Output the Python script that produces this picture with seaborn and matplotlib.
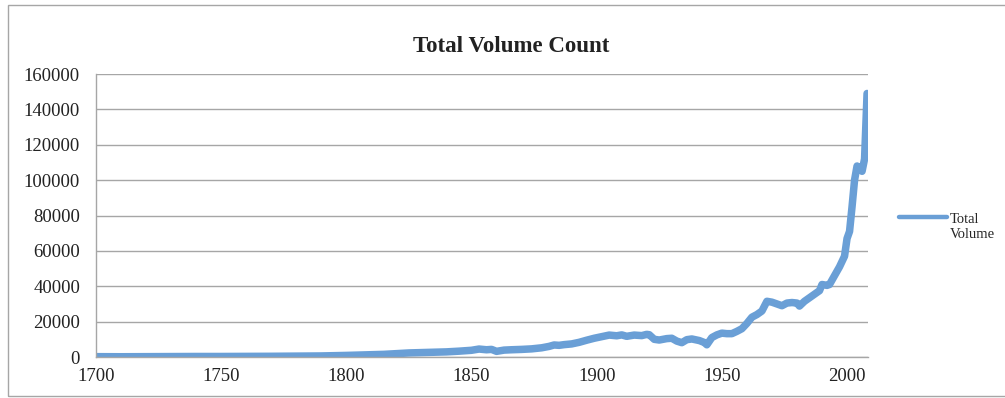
#!/usr/bin/env python3

import matplotlib.pylab as plt
import matplotlib.patches as mpatches
import pandas as pd
import seaborn as sns

# Values
years = [
    1700, 1710, 1720, 1730, 1740, 1750, 1760, 1770, 1780, 1790,
    1800, 1805, 1810, 1815, 1820, 1825, 1830, 1835, 1840, 1845,
    1850, 1853, 1856, 1858, 1860, 1863, 1866, 1870, 1874, 1878,
    1881, 1883, 1885, 1887, 1890, 1893, 1896, 1899, 1902, 1905,
    1908, 1910, 1912, 1915, 1918, 1920, 1921, 1923, 1925, 1928,
    1930, 1932, 1934, 1936, 1938, 1941, 1943, 1944, 1946, 1948,
    1950, 1952, 1954, 1956, 1958, 1960, 1962, 1964, 1966, 1968,
    1970, 1972, 1974, 1976, 1978, 1980, 1981, 1983, 1985, 1987,
    1989, 1990, 1992, 1993, 1995, 1997, 1999, 2000, 2001, 2002,
    2003, 2004, 2005, 2006, 2007, 2008,
]
volumes = [
    200, 150, 200, 250, 300, 300, 350, 400, 500, 600,
    900, 1100, 1300, 1500, 1900, 2300, 2500, 2700, 2900, 3300,
    3800, 4500, 4100, 4300, 3200, 3900, 4100, 4300, 4600, 5200,
    6000, 6800, 6600, 7000, 7400, 8300, 9500, 10600, 11500, 12400,
    12000, 12500, 11700, 12400, 12100, 12800, 12600, 10000, 9600, 10400,
    10600, 9000, 8100, 9800, 10200, 9300, 8200, 6900, 11000, 12500,
    13500, 13200, 13200, 14500, 16000, 19000, 22500, 24000, 26000, 31500,
    31000, 30000, 29000, 30500, 30800, 30500, 28800, 31500, 33500, 35500,
    37500, 41000, 40500, 41000, 46000, 51000, 57000, 67000, 71000, 85000,
    100000, 108000, 107000, 105000, 112000, 149000,
]
series_name = "Total\nVolume"
title = "Total Volume Count"
xticks = [1700, 1750, 1800, 1850, 1900, 1950, 2000]
yticks = [0, 20000, 40000, 60000, 80000, 100000, 120000, 140000, 160000]

sns.set_style("white")
plt.rcParams["font.family"] = ["Liberation Serif", "DejaVu Serif"]

df = pd.DataFrame({"year": years, "value": volumes, "series": series_name})

fig = plt.figure(figsize=(10.05, 3.98), dpi=100)
ax = fig.add_axes([0.0955, 0.103, 0.7685, 0.711])

sns.lineplot(
    data=df,
    x="year",
    y="value",
    hue="series",
    palette=["#6A9FD6"],
    linewidth=5.4,
    solid_capstyle="round",
    solid_joinstyle="round",
    ax=ax,
)

ax.set_xlim(1700, 2008.5)
ax.set_ylim(0, 160000)
ax.set_xticks(xticks)
ax.set_yticks(yticks)
ax.set_xticklabels([str(x) for x in xticks], fontsize=13.5)
ax.set_yticklabels([str(y) for y in yticks], fontsize=13.5)
ax.set_xlabel("")
ax.set_ylabel("")

# Title is centred on the whole chart, not on the plot area
fig.text(511 / 1005, 1 - 46 / 398, title, fontsize=16.5, fontweight="bold",
         ha="center", va="center", color="#222222")

# Excel-style gray grid and axes
ax.yaxis.grid(True, color="#A6A6A6", linewidth=1.0)
ax.xaxis.grid(False)
ax.set_axisbelow(True)
for side in ["top", "right"]:
    ax.spines[side].set_visible(False)
for side in ["left", "bottom"]:
    ax.spines[side].set_color("#A6A6A6")
    ax.spines[side].set_linewidth(1.0)
ax.tick_params(axis="y", direction="out", length=4.5, color="#A6A6A6",
               width=1.0, labelcolor="#222222", pad=7)
ax.tick_params(axis="x", direction="out", length=3, color="#A6A6A6",
               width=1.0, labelcolor="#222222", pad=5)

# Legend off to the right, no frame
handles, labels = ax.get_legend_handles_labels()
leg = ax.legend(
    handles=handles,
    labels=labels,
    loc="center left",
    bbox_to_anchor=(1.023, 0.46),
    frameon=False,
    fontsize=10.5,
    handlelength=3.3,
    handletextpad=0.15,
)
# Excel puts the legend key level with the first text line
for line in leg.get_lines():
    line.set_linewidth(3.2)
    line.set_ydata([y + 7 for y in line.get_ydata()])

# Thin gray border around the whole chart (runs off the right edge)
fig.patches.append(
    mpatches.Rectangle((8 / 1005, 2 / 398), 1.0, 391 / 398,
                       transform=fig.transFigure, fill=False,
                       edgecolor="#A6A6A6", linewidth=1.0)
)

plt.savefig("out.png", dpi=100)
plt.clf()
